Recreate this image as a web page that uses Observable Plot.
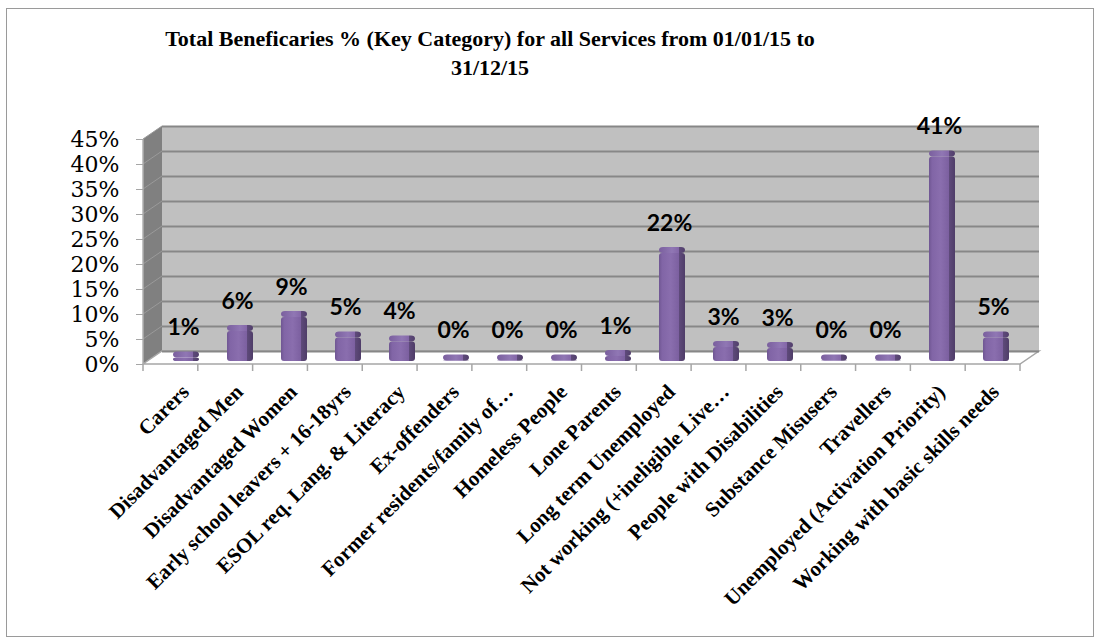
<!DOCTYPE html>
<html><head><meta charset="utf-8">
<script src="https://cdn.jsdelivr.net/npm/d3@7"></script>
<script src="https://cdn.jsdelivr.net/npm/@observablehq/plot@0.6"></script>
<style>
html,body{margin:0;padding:0;background:#fff;}
#wrap{position:relative;width:1101px;height:644px;overflow:hidden;}
#frame{position:absolute;left:6px;top:8px;width:1088px;height:629px;border:1px solid #9a9a9a;box-sizing:border-box;}
#title{position:absolute;left:0;width:980px;top:24px;text-align:center;font-family:"Liberation Serif",serif;font-weight:bold;font-size:22px;line-height:29px;color:#000;}
#chart{position:absolute;left:0;top:0;}
</style></head>
<body><div id="wrap"><div id="frame"></div><div id="title"></div><div id="chart"></div></div>
<script>
const titleLines = ["Total Beneficaries % (Key Category)  for all Services from 01/01/15 to", "31/12/15"];
const categories = ["Carers","Disadvantaged Men","Disadvantaged Women","Early school leavers + 16-18yrs","ESOL req. Lang. & Literacy","Ex-offenders","Former residents/family of…","Homeless People","Lone Parents","Long term Unemployed","Not working (+ineligible Live…","People with Disabilities","Substance Misusers","Travellers","Unemployed (Activation Priority)","Working with basic skills needs"];
const values = [0.7, 6.0, 8.8, 4.7, 3.9, 0.1, 0.1, 0.1, 1.0, 21.6, 2.8, 2.6, 0.1, 0.1, 40.9, 4.7];
const yTicks = [0,5,10,15,20,25,30,35,40,45];

document.getElementById("title").innerHTML = titleLines.join("<br>");

const data = categories.map((c,i)=>({category:c, value:values[i]}));
const DX = 19, DY = -13;

function walls(index, scales, vals, dims) {
  const x0 = dims.marginLeft, x1 = dims.width - dims.marginRight;
  const yb = scales.y(0), yt = scales.y(45);
  const g = d3.create("svg:g");
  g.append("rect").attr("x", x0+DX).attr("y", yt+DY).attr("width", x1-x0).attr("height", yb-yt).attr("fill","#c0c0c0");
  g.append("path").attr("d",`M${x0},${yb}L${x0},${yt}L${x0+DX},${yt+DY}L${x0+DX},${yb+DY}Z`).attr("fill","#808080");
  for (const t of yTicks) {
    const y = scales.y(t);
    g.append("line").attr("x1",x0).attr("y1",y).attr("x2",x0+DX).attr("y2",y+DY).attr("stroke","#9a9a9a").attr("stroke-width",1);
  }
  g.append("path").attr("d",`M${x0},${yb}L${x0+DX},${yb+DY}L${x1+DX},${yb+DY}L${x1},${yb}Z`).attr("fill","#fff").attr("stroke","#a6a6a6").attr("stroke-width",1.5);
  const n = categories.length, step = (x1-x0)/n;
  for (let i=0;i<=n;i++) {
    g.append("line").attr("x1",x0+i*step).attr("x2",x0+i*step).attr("y1",yb).attr("y2",yb+7).attr("stroke","#a6a6a6").attr("stroke-width",1.5);
  }
  g.append("line").attr("x1",x0).attr("x2",x0).attr("y1",yt).attr("y2",yb).attr("stroke","#b0b0b0").attr("stroke-width",1.5);
  return g.node();
}

const plot = Plot.plot({
  width: 1101, height: 644,
  marginLeft: 143, marginRight: 81, marginTop: 139, marginBottom: 280,
  x: {domain: categories, paddingInner: 0.52, paddingOuter: 0.26, align: 0.5, label: null},
  y: {domain: [0,45], label: null},
  style: {background: "transparent", overflow: "visible"},
  marks: [
    walls,
    Plot.ruleY(yTicks, {stroke:"#878787", strokeWidth:2, dx:DX, dy:DY}),
    Plot.axisY(yTicks, {tickFormat: d => d + "%", tickSize: 7, tickPadding: 17, fontSize: 22, fontFamily: "DejaVu Serif", stroke: "#a6a6a6", fill: "#000", label: null}),
    Plot.axisX({tickRotate: -45, tickSize: 0, tickPadding: 24, dx: 8, fontSize: 21, fontWeight: "bold", fontFamily: "Liberation Serif", fill: "#000", label: null}),
    Plot.barY(data, {x:"category", y:"value", fill:"url(#barGrad)", dx:9, dy:-3, rx:3}),
    Plot.barY(data, {x:"category", y1:"value", y2:"value", insetTop:-6, fill:"url(#capGrad)", dx:9, dy:-3, rx:4}),
    Plot.text(data, {x:"category", y:"value", text: d => Math.round(d.value) + "%", dx:6, dy:-33, fontSize:23, fontWeight:"bold", fontFamily:"Lato", fill:"#000"})
  ]
});

const svg = d3.select(plot);
const defs = svg.insert("defs", ":first-child");
const bg = defs.append("linearGradient").attr("id","barGrad").attr("x1",0).attr("x2",1).attr("y1",0).attr("y2",0);
[[0,"#6f5692"],[0.12,"#8165a6"],[0.45,"#8a6eae"],[0.76,"#7c60a0"],[0.78,"#5e4a7a"],[1,"#4f3d68"]].forEach(([o,c])=>bg.append("stop").attr("offset",o).attr("stop-color",c));
const cg = defs.append("linearGradient").attr("id","capGrad").attr("x1",0).attr("x2",1).attr("y1",0).attr("y2",0);
[[0,"#7a5f9e"],[0.5,"#9077b4"],[0.76,"#8467a8"],[0.78,"#5e4a7a"],[1,"#523f6c"]].forEach(([o,c])=>cg.append("stop").attr("offset",o).attr("stop-color",c));

document.getElementById("chart").appendChild(plot);
</script>
</body></html>
